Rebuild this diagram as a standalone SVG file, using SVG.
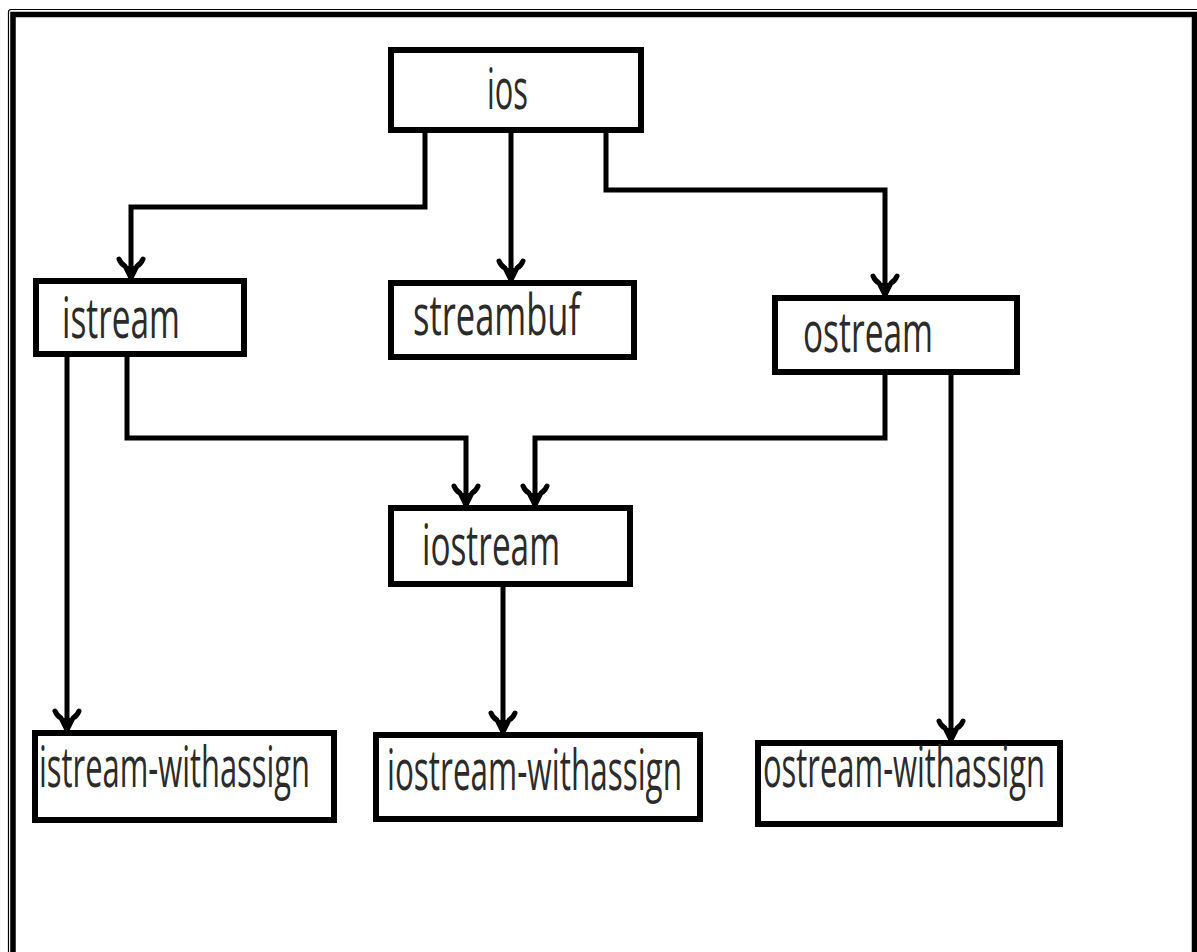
<svg xmlns="http://www.w3.org/2000/svg" width="1197" height="952" viewBox="0 0 1197 952">
  <style>
    .box { fill: #ffffff; stroke: #000000; stroke-width: 6; }
    .lbl { font-family: "Open Sans", "Liberation Sans", sans-serif; font-size: 31.3px; fill: #2b2b2b; }
    .edge { fill: none; stroke: #000000; stroke-width: 5; stroke-linejoin: miter; marker-end: url(#head); }
  </style>
  <defs>
    <!-- flared arrowhead, tip at the end point of the line -->
    <marker id="head" markerUnits="userSpaceOnUse" markerWidth="30" markerHeight="34" refX="24" refY="17" orient="auto" overflow="visible">
      <path d="M 5 5 Q 10 7 12 11 L 24 17 L 12 23 Q 10 27 5 29" fill="none" stroke="#000" stroke-width="5" stroke-linejoin="round" stroke-linecap="round"/>
      <path d="M 12 11 L 24 17 L 12 23 Z" fill="#000"/>
    </marker>
  </defs>

  <rect width="1197" height="952" fill="#ffffff"/>

  <!-- page frame -->
  <path d="M 8.5 952 V 12 Q 8.5 9.5 11 9.5 H 1197" fill="none" stroke="#000" stroke-width="1.2"/>
  <path d="M 13 952 V 14.5 H 1194.5 V 952" fill="none" stroke="#000" stroke-width="5.5"/>

  <!-- connectors -->
  <g id="connectors">
    <path class="edge" d="M 425 133 V 207 H 131 V 278"/>
    <path class="edge" d="M 511 133 V 280"/>
    <path class="edge" d="M 606 133 V 190 H 885 V 295"/>
    <path class="edge" d="M 127 357 V 438 H 466 V 505"/>
    <path class="edge" d="M 885 375 V 438 H 535 V 505"/>
    <path class="edge" d="M 67 357 V 730"/>
    <path class="edge" d="M 503 587 V 732"/>
    <path class="edge" d="M 951 375 V 740"/>
  </g>

  <!-- labels use a tall, narrow face: drawn at a small size and stretched vertically -->
  <g id="ios">
    <rect class="box" x="391" y="50" width="250" height="80"/>
    <text class="lbl" transform="translate(487 109) scale(1 1.79)" textLength="41" lengthAdjust="spacingAndGlyphs">ios</text>
  </g>
  <g id="istream">
    <rect class="box" x="36" y="281" width="208" height="73"/>
    <text class="lbl" transform="translate(62 338) scale(1 1.79)" textLength="118" lengthAdjust="spacingAndGlyphs">istream</text>
  </g>
  <g id="streambuf">
    <rect class="box" x="391" y="283" width="243" height="74"/>
    <text class="lbl" transform="translate(413 335) scale(1 1.79)" textLength="167" lengthAdjust="spacingAndGlyphs">streambuf</text>
  </g>
  <g id="ostream">
    <rect class="box" x="775" y="298" width="242" height="74"/>
    <text class="lbl" transform="translate(803 352) scale(1 1.79)" textLength="130" lengthAdjust="spacingAndGlyphs">ostream</text>
  </g>
  <g id="iostream">
    <rect class="box" x="391" y="508" width="239" height="76"/>
    <text class="lbl" transform="translate(422 565) scale(1 1.79)" textLength="138" lengthAdjust="spacingAndGlyphs">iostream</text>
  </g>
  <g id="istream-withassign">
    <rect class="box" x="35" y="733" width="299" height="87"/>
    <text class="lbl" transform="translate(39 787) scale(1 1.79)" textLength="271" lengthAdjust="spacingAndGlyphs">istream-withassign</text>
  </g>
  <g id="iostream-withassign">
    <rect class="box" x="376" y="735" width="324" height="84"/>
    <text class="lbl" transform="translate(387 790) scale(1 1.79)" textLength="295" lengthAdjust="spacingAndGlyphs">iostream-withassign</text>
  </g>
  <g id="ostream-withassign">
    <rect class="box" x="758" y="743" width="302" height="81"/>
    <text class="lbl" transform="translate(763 787) scale(1 1.79)" textLength="282" lengthAdjust="spacingAndGlyphs">ostream-withassign</text>
  </g>
</svg>
